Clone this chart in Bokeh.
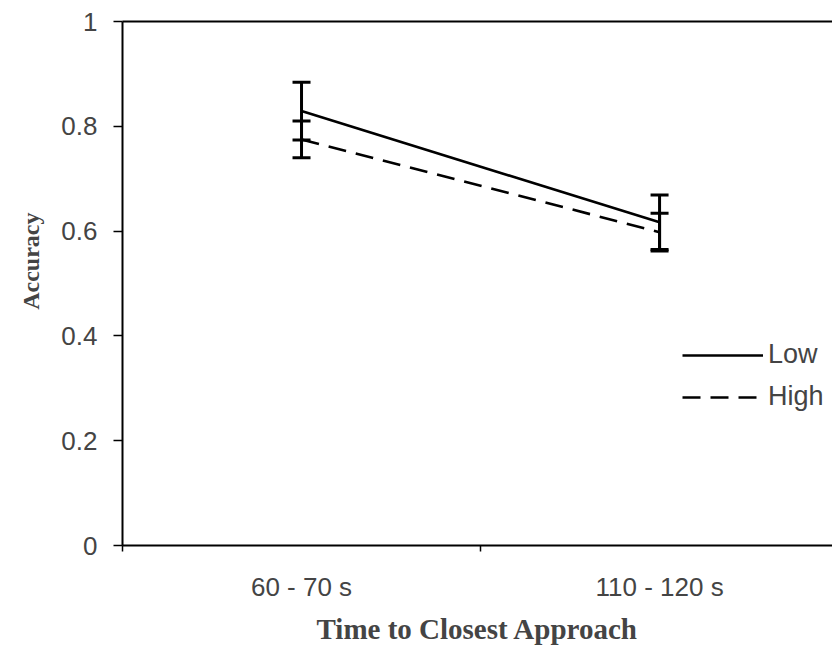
from bokeh.plotting import figure
from bokeh.models import (ColumnDataSource, Range1d, FixedTicker, Whisker, TeeHead,
                          Legend, LegendItem, LinearAxis, Title)
from bokeh.embed import file_html
from bokeh.resources import INLINE

categories = ["60 - 70 s", "110 - 120 s"]
low_acc = [0.829, 0.617]
low_err = [0.055, 0.052]
high_acc = [0.775, 0.598]
high_err = [0.035, 0.036]
y_ticks = [0, 0.2, 0.4, 0.6, 0.8, 1]
y_tick_labels = ["0", "0.2", "0.4", "0.6", "0.8", "1"]

xpos = [i + 0.5 for i in range(len(categories))]

p = figure(width=832, height=656, output_backend="svg", toolbar_location=None,
           x_range=Range1d(0, 1.983), y_range=Range1d(0, 1))
p.min_border_left = 122
p.min_border_top = 21
p.min_border_bottom = 111
p.min_border_right = 0
p.outline_line_color = None
p.grid.visible = False
p.background_fill_color = "white"
p.border_fill_color = "white"

# x axis
xa = p.xaxis[0]
xa.ticker = FixedTicker(ticks=xpos, minor_ticks=[0, 1, 2])
xa.major_label_overrides = {x: c for x, c in zip(xpos, categories)}
xa.major_tick_line_color = None
xa.minor_tick_out = 6
xa.minor_tick_in = 0
xa.minor_tick_line_width = 1.5
xa.axis_line_width = 2
xa.major_label_text_font = "Liberation Sans"
xa.major_label_text_font_size = "26px"
xa.major_label_standoff = 20
xa.axis_label = "Time to Closest Approach"
xa.axis_label_text_font = "Liberation Serif"
xa.axis_label_text_font_style = "bold"
xa.axis_label_text_font_size = "29px"
xa.axis_label_standoff = 8

# y axis
ya = p.yaxis[0]
ya.ticker = FixedTicker(ticks=y_ticks, minor_ticks=[])
ya.major_label_overrides = {t: l for t, l in zip(y_ticks, y_tick_labels)}
ya.major_tick_out = 9
ya.major_tick_in = 0
ya.major_tick_line_width = 1.5
ya.axis_line_width = 2
ya.major_label_text_font = "Liberation Sans"
ya.major_label_text_font_size = "26px"
ya.major_label_standoff = 16

ytitle = Title(text="Accuracy", align="right", offset=191,
               text_font="Liberation Serif", text_font_style="bold",
               text_font_size="24px", standoff=30)
p.add_layout(ytitle, "left")

# top border line
top = LinearAxis(ticker=FixedTicker(ticks=[]), major_label_text_font_size="0px",
                 major_tick_line_color=None, minor_tick_line_color=None,
                 axis_line_width=2)
p.add_layout(top, "above")

src_low = ColumnDataSource(dict(x=xpos, y=low_acc,
                                upper=[a + e for a, e in zip(low_acc, low_err)],
                                lower=[a - e for a, e in zip(low_acc, low_err)]))
src_high = ColumnDataSource(dict(x=xpos, y=high_acc,
                                 upper=[a + e for a, e in zip(high_acc, high_err)],
                                 lower=[a - e for a, e in zip(high_acc, high_err)]))

r_low = p.line("x", "y", source=src_low, line_color="black", line_width=2.6)
r_high = p.line("x", "y", source=src_high, line_color="black", line_width=2.6,
                line_dash="18 10")

for src in (src_low, src_high):
    w = Whisker(base="x", upper="upper", lower="lower", source=src,
                line_color="black", line_width=3,
                upper_head=TeeHead(size=18, line_width=3, line_color="black"),
                lower_head=TeeHead(size=18, line_width=3, line_color="black"))
    p.add_layout(w)

legend = Legend(items=[LegendItem(label="Low", renderers=[r_low]),
                       LegendItem(label="High", renderers=[r_high])],
                location=(560, 133), orientation="vertical",
                border_line_color=None, background_fill_alpha=0,
                label_text_font="Liberation Sans", label_text_font_size="27px",
                glyph_width=81, glyph_height=30, label_height=30,
                label_standoff=5, spacing=11, padding=0, margin=0)
p.add_layout(legend)

open("out.html", "w").write(file_html(p, INLINE))
